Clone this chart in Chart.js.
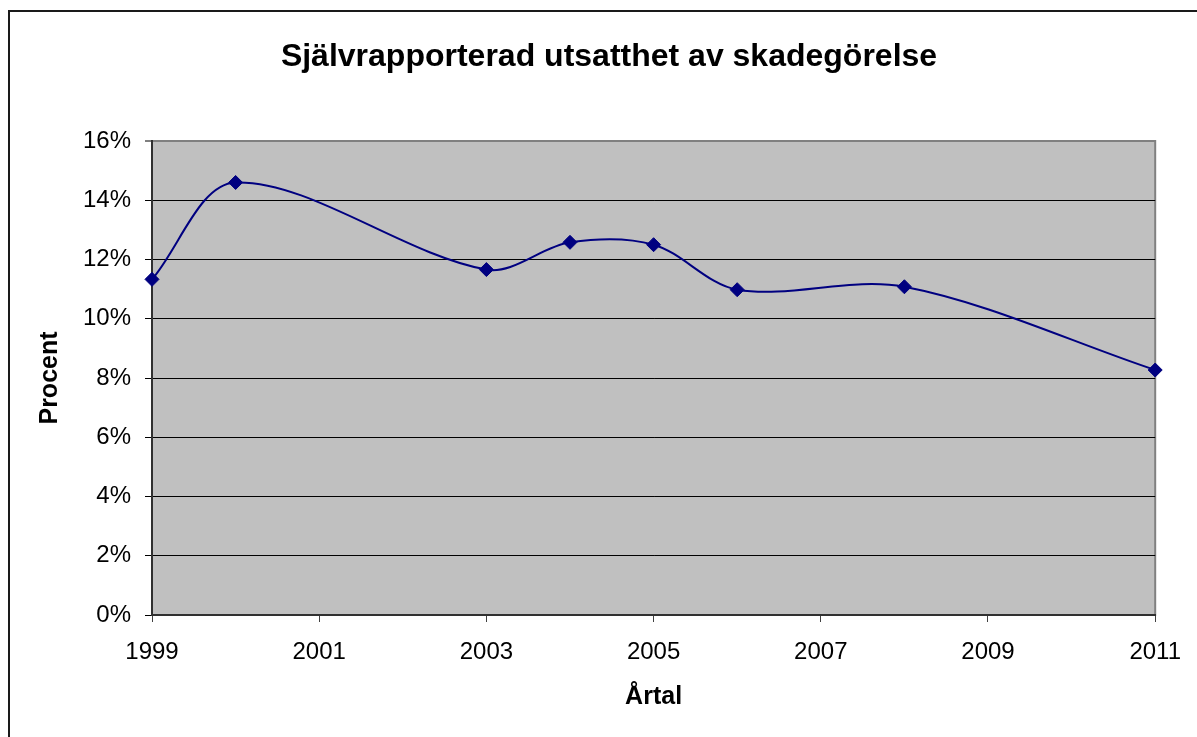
<!DOCTYPE html>
<html>
<head>
<meta charset="utf-8">
<script src="https://cdn.jsdelivr.net/npm/chart.js@4/dist/chart.umd.min.js"></script>
<style>
  html, body { margin: 0; padding: 0; background: #ffffff; }
  #wrap { width: 1197px; height: 737px; position: relative; }
</style>
</head>
<body>
<div id="wrap"><canvas id="c" width="1197" height="737"></canvas></div>
<script>
const chartTitle = 'Självrapporterad utsatthet av skadegörelse';
const xTitle = 'Årtal';
const yTitle = 'Procent';
const years = [1999, 2000, 2003, 2004, 2005, 2006, 2008, 2011];
const percentValues = [11.33, 14.6, 11.66, 12.58, 12.5, 10.98, 11.08, 8.27];
const xTicks = [1999, 2001, 2003, 2005, 2007, 2009, 2011];
const yTicks = [0, 2, 4, 6, 8, 10, 12, 14, 16];

const points = years.map((y, i) => ({ x: y, y: percentValues[i] }));
const FONT = '"Liberation Sans", Arial, sans-serif';

const frame = {
  id: 'frame',
  beforeDraw(chart) {
    const { ctx, chartArea: a } = chart;
    ctx.save();
    ctx.fillStyle = '#ffffff';
    ctx.fillRect(0, 0, chart.width, chart.height);
    ctx.strokeStyle = '#1a1a1a';
    ctx.lineWidth = 2;
    ctx.strokeRect(9, 11, 1300, 1000);
    ctx.fillStyle = '#c0c0c0';
    ctx.fillRect(a.left, a.top, a.right - a.left, a.bottom - a.top);
    ctx.strokeStyle = '#808080';
    ctx.lineWidth = 2;
    ctx.strokeRect(a.left, a.top, a.right - a.left, a.bottom - a.top);
    ctx.restore();
  }
};

new Chart(document.getElementById('c'), {
  type: 'line',
  data: {
    datasets: [{
      data: points,
      borderColor: '#000080',
      backgroundColor: '#000080',
      borderWidth: 2,
      tension: 0.33,
      pointStyle: 'rectRot',
      pointRadius: 7,
      pointHoverRadius: 7,
      pointBackgroundColor: '#000080',
      pointBorderColor: '#000080',
      pointBorderWidth: 1,
      fill: false,
      clip: false
    }]
  },
  options: {
    responsive: false,
    animation: false,
    events: [],
    layout: { padding: { left: 21, top: 0, right: 0, bottom: 0 } },
    plugins: {
      legend: { display: false },
      tooltip: { enabled: false },
      title: {
        display: true,
        text: chartTitle,
        color: '#000000',
        font: { family: FONT, size: 32, weight: 'bold', lineHeight: 1.2 },
        padding: { top: 38, bottom: 64.6 }
      }
    },
    scales: {
      x: {
        type: 'linear',
        min: 1999,
        max: 2011,
        afterFit(s) { s.height = 122; },
        afterBuildTicks(s) { s.ticks = xTicks.map(v => ({ value: v })); },
        ticks: {
          color: '#000000',
          font: { family: FONT, size: 24 },
          padding: 16,
          maxRotation: 0,
          autoSkip: false,
          callback: v => String(v)
        },
        grid: {
          drawOnChartArea: false,
          drawTicks: true,
          tickLength: 7,
          color: '#404040',
          lineWidth: 1
        },
        border: { display: true, color: '#303030', width: 2 },
        title: {
          display: true,
          text: xTitle,
          color: '#000000',
          font: { family: FONT, size: 25, weight: 'bold', lineHeight: 1.2 },
          padding: { top: 0, bottom: 25 }
        }
      },
      y: {
        type: 'linear',
        min: 0,
        max: 16,
        afterFit(s) { s.width = 131; },
        afterBuildTicks(s) { s.ticks = yTicks.map(v => ({ value: v })); },
        ticks: {
          color: '#000000',
          font: { family: FONT, size: 24 },
          padding: 14,
          callback: v => v + '%'
        },
        grid: {
          drawOnChartArea: true,
          drawTicks: true,
          tickLength: 7,
          color: ctx => (ctx.tick && ctx.tick.value === 16) ? '#808080' : '#000000',
          lineWidth: ctx => (ctx.tick && ctx.tick.value === 16) ? 2 : 1
        },
        border: { display: true, color: '#303030', width: 2 },
        title: {
          display: true,
          text: yTitle,
          color: '#000000',
          font: { family: FONT, size: 25, weight: 'bold', lineHeight: 1.2 },
          padding: { top: 14, bottom: 0 }
        }
      },
      yRightSpacer: {
        type: 'linear',
        position: 'right',
        display: true,
        min: 0,
        max: 16,
        afterFit(s) { s.width = 38; },
        ticks: { display: false },
        grid: { display: false, drawOnChartArea: false, drawTicks: false },
        border: { display: false }
      }
    }
  },
  plugins: [frame]
});
</script>
</body>
</html>
